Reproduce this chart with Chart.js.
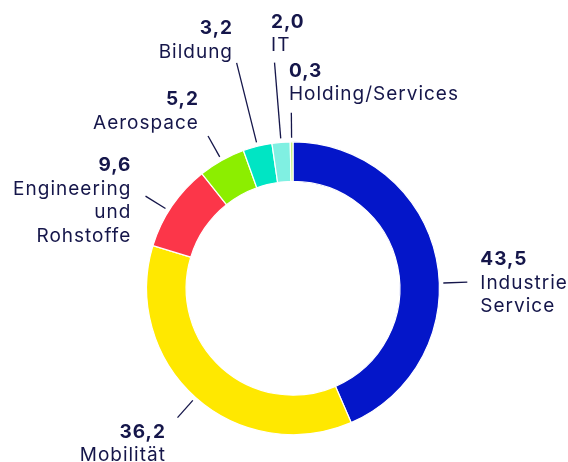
<!DOCTYPE html>
<html>
<head>
<meta charset="utf-8">
<script src="https://cdn.jsdelivr.net/npm/chart.js@4.4.1/dist/chart.umd.min.js"></script>
<style>
  html, body { margin: 0; padding: 0; background: #ffffff; }
  #wrap { width: 568px; height: 462px; }
</style>
</head>
<body>
<div id="wrap"><canvas id="c" width="568" height="462"></canvas></div>
<script>
// ---- data ----
const categories = ['Industrie Service', 'Mobilität', 'Engineering und Rohstoffe', 'Aerospace', 'Bildung', 'IT', 'Holding/Services'];
const values = [43.5, 36.2, 9.6, 5.2, 3.2, 2.0, 0.3];
const labelLines = [['Industrie', 'Service'], ['Mobilität'], ['Engineering', 'und', 'Rohstoffe'], ['Aerospace'], ['Bildung'], ['IT'], ['Holding/Services']];

// ---- styles ----
const colors = ['#0416c9', '#ffe800', '#fc3649', '#8cee00', '#00e5c4', '#80f0e2', '#c6ee7c'];
const textColor = '#15164a';
// leader-line / label layout (angle override in degrees clockwise from top, line length, text offset from line end)
const labelLayout = [
  { angle: 88,   len: 24,   dx: 13,    dy: -16.7, align: 'left'  },
  { angle: null, len: 23,   dx: -11.6, dy: 20.3,  align: 'right' },
  { angle: 302,  len: 23.5, dx: -14.2, dy: -24.9, align: 'right' },
  { angle: null, len: 24,   dx: -9.1,  dy: -30.6, align: 'right' },
  { angle: null, len: 82,   dx: -3.6,  dy: -28.4, align: 'right' },
  { angle: null, len: 76,   dx: -3.5,  dy: -35,   align: 'left'  },
  { angle: null, len: 25,   dx: -2.4,  dy: -36.2, align: 'left'  }
];
const fontFamily = 'Inter, "Open Sans", sans-serif';
const fontSize = 19;
const lineHeight = 23.5;

const fmt = v => v.toFixed(1).replace('.', ',');

const outsideLabels = {
  id: 'outsideLabels',
  afterDatasetsDraw(chart) {
    const ctx = chart.ctx;
    const meta = chart.getDatasetMeta(0);
    ctx.save();
    meta.data.forEach((arc, i) => {
      const p = arc.getProps(['x', 'y', 'startAngle', 'endAngle', 'outerRadius'], true);
      const L = labelLayout[i];
      let a = (p.startAngle + p.endAngle) / 2; // canvas radians
      if (L.angle !== null) a = (L.angle - 90) * Math.PI / 180;
      const r0 = p.outerRadius + 4;
      const r1 = r0 + L.len;
      const x0 = p.x + Math.cos(a) * r0, y0 = p.y + Math.sin(a) * r0;
      const x1 = p.x + Math.cos(a) * r1, y1 = p.y + Math.sin(a) * r1;
      ctx.strokeStyle = textColor;
      ctx.lineWidth = 1.3;
      ctx.beginPath();
      ctx.moveTo(x0, y0);
      ctx.lineTo(x1, y1);
      ctx.stroke();

      const tx = x1 + L.dx;
      let ty = y1 + L.dy;
      ctx.fillStyle = textColor;
      ctx.textAlign = L.align;
      ctx.textBaseline = 'alphabetic';
      ctx.letterSpacing = '1px';
      ctx.font = 'bold ' + fontSize + 'px ' + fontFamily;
      ctx.fillText(fmt(values[i]), tx, ty);
      ctx.font = fontSize + 'px ' + fontFamily;
      labelLines[i].forEach(line => {
        ty += lineHeight;
        ctx.fillText(line, tx, ty);
      });
    });
    ctx.restore();
  }
};

new Chart(document.getElementById('c'), {
  type: 'doughnut',
  data: {
    labels: categories,
    datasets: [{
      data: values,
      backgroundColor: colors,
      borderColor: '#ffffff',
      borderWidth: 1.2,
      hoverOffset: 0
    }]
  },
  options: {
    responsive: false,
    animation: false,
    cutout: '73%',
    layout: { padding: { left: 146, right: 128, top: 141, bottom: 26.5 } },
    plugins: { legend: { display: false }, tooltip: { enabled: false } },
    events: []
  },
  plugins: [outsideLabels]
});
</script>
</body>
</html>
